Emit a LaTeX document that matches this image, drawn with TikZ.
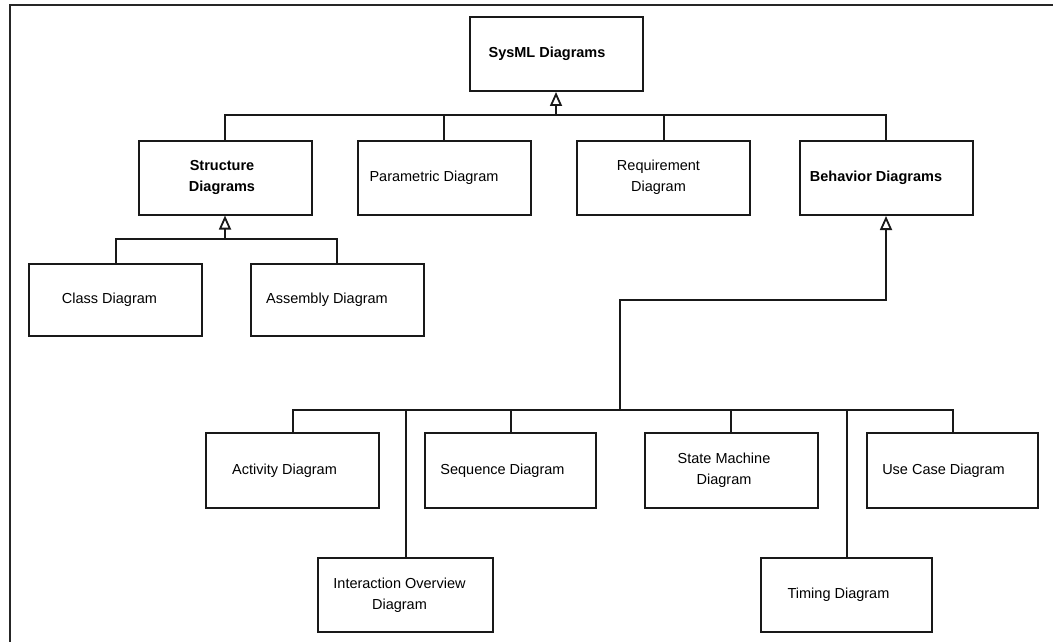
\documentclass[tikz,border=0pt]{standalone}
\usepackage{fontspec}
\setmainfont{Liberation Sans}
\usetikzlibrary{arrows.meta}

\begin{document}
\begin{tikzpicture}[x=1pt,y=-1pt,
  ink/.style={draw=black!90, line width=2pt},
  box/.style={ink, rectangle, minimum width=173pt, minimum height=74pt, inner sep=0pt},
  lbl/.style={font=\fontsize{14.5}{21}\selectfont, align=center, inner sep=0pt},
  blbl/.style={lbl, font=\fontsize{14.5}{21}\selectfont\bfseries},
  wire/.style={ink, line cap=rect},
  gen/.style={ink, -{Triangle[open, length=14pt, width=12pt, line width=1.8pt]}},
  frameline/.style={draw=black!85, line width=1.5pt}]

% page extent
\useasboundingbox (0,0) rectangle (1053,642);

% outer frame (top and left edges)
\draw[frameline] (10,642) -- (10,5) -- (1053,5);

% top level
\node[box, label={[blbl, xshift=-9pt]center:SysML Diagrams}] (sysml) at (556,54) {};

% second level
\node[box, label={[blbl, xshift=-3pt]center:{Structure\\Diagrams}}] (struct) at (225,177.5) {};
\node[box, label={[lbl, xshift=-10pt]center:Parametric Diagram}] (param) at (444,177.5) {};
\node[box, label={[lbl, xshift=-5pt]center:{Requirement\\Diagram}}] (req) at (663.5,177.5) {};
\node[box, label={[blbl, xshift=-10pt]center:Behavior Diagrams}] (beh) at (886,178) {};

% structure diagrams
\node[box, minimum height=72pt, label={[lbl, xshift=-6pt]center:Class Diagram}] (class) at (115.5,300) {};
\node[box, minimum height=72pt, label={[lbl, xshift=-10pt]center:Assembly Diagram}] (assem) at (337,300) {};

% behavior diagrams
\node[box, minimum height=75pt, label={[lbl, xshift=-8pt]center:Activity Diagram}] (act) at (292.5,470.5) {};
\node[box, minimum height=75pt, minimum width=171pt, label={[lbl, xshift=-8pt]center:Sequence Diagram}] (seq) at (510.5,470.5) {};
\node[box, minimum height=75pt, label={[lbl, xshift=-7pt]center:{State Machine\\Diagram}}] (sm) at (731,470.5) {};
\node[box, minimum height=75pt, minimum width=171pt, label={[lbl, xshift=-9pt]center:Use Case Diagram}] (uc) at (952.5,470.5) {};
\node[box, minimum width=175pt, label={[lbl, xshift=-6pt]center:{Interaction Overview\\Diagram}}] (inter) at (405.5,595) {};
\node[box, minimum width=171pt, label={[lbl, xshift=-8pt]center:Timing Diagram}] (tim) at (846.5,595) {};

% bus junctions, aligned under each parent
\coordinate (sysbus) at (sysml.south |- 0,115);
\coordinate (strbus) at (struct.south |- 0,239);
\coordinate (behbus) at (620,410);
\coordinate (behturn) at (beh.south |- 0,300);

% generalization: SysML Diagrams
\draw[wire] (struct.north) |- (sysbus);
\draw[wire] (param.north) |- (sysbus);
\draw[wire] (req.north) |- (sysbus);
\draw[wire] (beh.north) |- (sysbus);
\draw[gen] (sysbus) -- (sysml.south);

% generalization: Structure Diagrams
\draw[wire] (class.north) |- (strbus);
\draw[wire] (assem.north) |- (strbus);
\draw[gen] (strbus) -- (struct.south);

% generalization: Behavior Diagrams
\draw[wire] (act.north) |- (behbus);
\draw[wire] (inter.north) |- (behbus);
\draw[wire] (seq.north) |- (behbus);
\draw[wire] (sm.north) |- (behbus);
\draw[wire] (tim.north) |- (behbus);
\draw[wire] (uc.north) |- (behbus);
\draw[gen] (behbus) |- (behturn) -- (beh.south);
\end{tikzpicture}
\end{document}
